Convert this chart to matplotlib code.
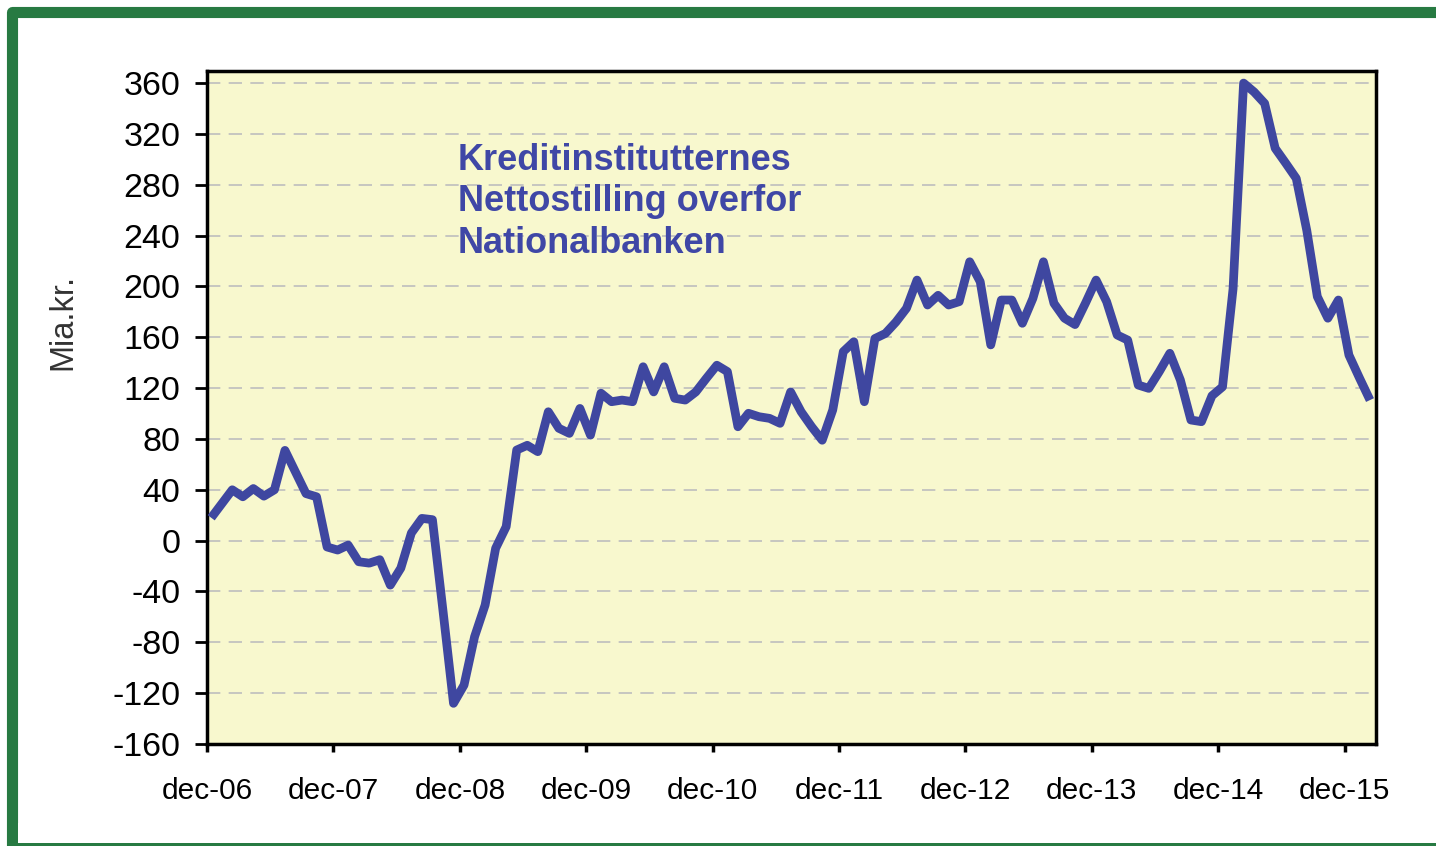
import numpy as np
import matplotlib
matplotlib.use("Agg")
import matplotlib.pyplot as plt
from matplotlib.patches import Rectangle

# Kreditinstitutternes nettostilling overfor Nationalbanken, mia. kr., monthly from dec-06
values = [
    18, 29, 40, 34.5, 41, 35, 40, 71, 54, 37,
    34.5, -5, -7.4, -3.5, -16.6, -17.7, -15, -35, -21.6, 6,
    17.5, 16.5, -55, -128, -113.6, -75.6, -50.7, -6, 11, 71.3,
    75, 70, 101.4, 88.4, 84.4, 104, 83, 116, 109.3, 110.6,
    109.3, 136.8, 117, 136.8, 112, 110.6, 117, 127.7, 138, 133,
    89.6, 100.2, 97.5, 96.2, 92.3, 117, 101.4, 89.6, 79, 102.8,
    148.7, 156.5, 109.3, 159, 163, 172, 182.8, 205, 185.4, 193,
    185.4, 188, 219.4, 203.7, 154, 189.3, 189.3, 171, 190.6, 219.4,
    186.7, 175, 170, 187, 205, 188, 161.8, 157.8, 122.4, 119.8,
    133, 147.4, 126.4, 94.9, 93.6, 114, 121, 198, 360, 353,
    344, 308.7, 297, 285, 244, 192, 175, 189.3, 146, 128,
    110.6,
]
tick_labels = ["dec-06", "dec-07", "dec-08", "dec-09", "dec-10",
               "dec-11", "dec-12", "dec-13", "dec-14", "dec-15"]
y_ticks = list(range(-160, 361, 40))
title_text = "Kreditinstitutternes\nNettostilling overfor\nNationalbanken"
y_label = "Mia.kr."

plt.rcParams.update({
    "font.family": ["Liberation Sans", "DejaVu Sans"],
    "axes.unicode_minus": False,
})

W, H = 1436, 846
fig = plt.figure(figsize=(W / 100, H / 100), dpi=100)
fig.patch.set_facecolor("white")

# green frame (cropped on the right/bottom like the source)
frame = Rectangle((12 / W, 0.5 / H), 1.2, (H - 12.5 - 0.5) / H,
                  transform=fig.transFigure, fill=False,
                  edgecolor="#277A42", linewidth=8, joinstyle="round")
fig.patches.append(frame)
# white cover so only a thin strip of the bottom bar shows
fig.patches.append(Rectangle((17.5 / W, 3.5 / H), 1.2, 20 / H,
                             transform=fig.transFigure, facecolor="white",
                             edgecolor="none"))

ax = fig.add_axes([207 / W, 102 / H, 1169 / W, 673 / H])
ax.set_facecolor("#F8F8CE")

x = np.arange(len(values))
ax.plot(x, values, color="#3F47A0", linewidth=6.3, solid_joinstyle="round",
        solid_capstyle="butt", zorder=3)

ax.set_xlim(-0.34, 110.57)
ax.set_ylim(-160, 369.5)

ax.set_yticks(y_ticks)
ax.set_yticklabels([str(v) for v in y_ticks], fontsize=24.5)
ax.set_xticks(np.arange(len(tick_labels)) * 12 - 0.4)
ax.set_xticklabels(tick_labels, fontsize=21.5)

ax.tick_params(axis="y", direction="out", length=9, width=2, pad=10, colors="black")
ax.tick_params(axis="x", direction="out", length=6, width=2.5, pad=18, colors="black")

for s in ax.spines.values():
    s.set_linewidth(2.5)
    s.set_color("black")

ax.yaxis.grid(True, color="#BEBEBE", linestyle=(0, (8, 5)), linewidth=1.2)
ax.set_axisbelow(True)

ax.text(0.2147, 0.893, title_text, transform=ax.transAxes, ha="left", va="top",
        fontsize=26, fontweight="bold", color="#3F47A6", linespacing=1.24)

fig.text(63 / W, 1 - 322 / H, y_label, rotation=90, ha="center", va="center",
         fontsize=23.5, color="#333333")

fig.savefig("out.png", dpi=100)
